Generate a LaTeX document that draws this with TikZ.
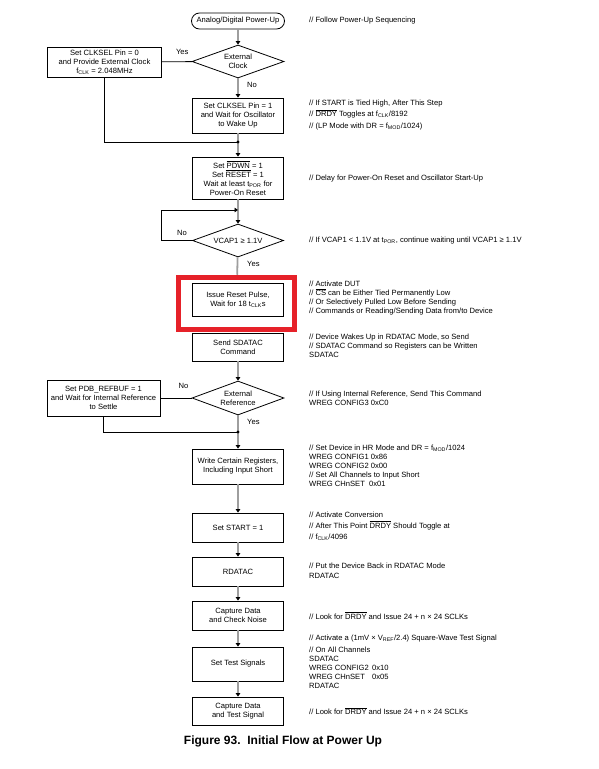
\documentclass[tikz,border=0pt]{standalone}
\usepackage{fontspec}
\setmainfont{Liberation Sans}
\usetikzlibrary{shapes.geometric,arrows.meta,positioning}
\newcommand{\ovl}[1]{$\overline{\mbox{#1}}$}

\begin{document}
\begin{tikzpicture}[x=1pt,y=-1pt,
    every node/.style={font=\fontsize{7.6}{9}\selectfont},
    process/.style ={rectangle, draw, line width=0.8pt, minimum width=91pt, align=center, inner sep=1pt},
    sidebox/.style ={rectangle, draw, line width=0.8pt, minimum width=114pt, align=center, inner sep=1pt},
    decision/.style ={diamond, draw, line width=0.8pt, aspect=2.8, inner sep=0.5pt, minimum width=92pt, minimum height=33pt, align=center},
    terminal/.style ={rectangle, draw, line width=0.8pt, rounded corners=8pt, minimum width=93pt, minimum height=16pt},
    flow/.style ={draw=black!38, line width=1.8pt, -{Triangle[length=3.5pt,width=4.5pt,color=black]}},
    wire/.style ={draw=black, line width=0.9pt},
    note/.style ={anchor=west, align=left, inner sep=0pt},
    lbl/.style ={inner sep=0pt}]
   \useasboundingbox (0,0) rectangle (599,769);

   % main column
   \node[terminal] (power) at (238,21) {Analog/Digital Power-Up};
   \node[decision] (clock) at (238,61.5) {External\\Clock};
   \node[sidebox, minimum height=30pt] (clksel0) at (104.5,62) {Set CLKSEL Pin = 0\\and Provide External Clock\\f\textsubscript{CLK} = 2.048MHz};
   \node[process, minimum height=35pt] (clksel1) at (238,115.5) {Set CLKSEL Pin = 1\\and Wait for Oscillator\\to Wake Up};
   \coordinate (join1) at (238,142);
   \node[process, minimum height=42pt] (pdwn) at (238,178) {Set \ovl{PDWN} = 1\\Set \ovl{RESET} = 1\\Wait at least t\textsubscript{POR} for\\Power-On Reset};
   \coordinate (loopc) at (161,210);
   \coordinate (loopin) at (238,210);
   \node[decision, minimum width=91pt] (vcap) at (238,240.5) {VCAP1 ≥ 1.1V};
   \node[process, minimum height=33pt] (reset) at (238,299.5) {Issue Reset Pulse,\\Wait for 18 t\textsubscript{CLK}s};
   \node[draw={rgb,255:red,230;green,33;blue,41}, line width=5.5pt, minimum width=116pt, minimum height=52pt] (mark) at (236.5,303.5) {};
   \node[process, minimum height=28pt] (sdatac) at (238,347) {Send SDATAC\\Command};
   \node[decision, minimum height=34pt] (extref) at (238,398) {External\\Reference};
   \node[sidebox, minimum width=113pt, minimum height=36pt] (refbuf) at (103.5,398) {Set PDB\_REFBUF = 1\\and Wait for Internal Reference\\to Settle};
   \coordinate (join2) at (238,432);
   \node[process, minimum height=35pt] (write) at (238,466.5) {Write Certain Registers,\\Including Input Short};
   \node[process, minimum height=29pt] (startbit) at (238,527.5) {Set START = 1};
   \node[process, minimum height=29pt] (rdatac) at (238,571.5) {RDATAC};
   \node[process, minimum height=29pt] (noise) at (238,615.5) {Capture Data\\and Check Noise};
   \node[process, minimum height=34pt] (testsig) at (238,664) {Set Test Signals};
   \node[process, minimum height=28pt] (capture) at (238,711) {Capture Data\\and Test Signal};

   % connectors
   \draw[flow] (power) -- (clock);
   \draw[flow] (clock) -- (clksel1);
   \draw[wire] (clksel0) -- (clock);
   \draw[flow] (clksel1) -- (pdwn);
   \draw[wire] (clksel0.south) |- (join1);
   \fill (join1) circle (1.6pt);
   \draw[flow] (pdwn) -- (vcap);
   \draw[wire, -{Triangle[length=3.5pt,width=4.5pt]}] (vcap.west) -| (loopc) -- (loopin);
   \draw[draw=black!38, line width=1.8pt] (vcap) -- (mark);
   \draw[flow] (sdatac) -- (extref);
   \draw[wire] (refbuf) -- (extref);
   \draw[wire] (refbuf.south) |- (join2);
   \draw[flow] (extref) -- (write);
   \fill (join2) circle (1.6pt);
   \draw[flow] (write) -- (startbit);
   \draw[flow] (startbit) -- (rdatac);
   \draw[flow] (rdatac) -- (noise);
   \draw[flow] (noise) -- (testsig);
   \draw[flow] (testsig) -- (capture);

   % yes / no
   \node[lbl, above left=6.5pt and 3pt of clock.west] (clockyes) {Yes};
   \node[lbl, below right=4pt and 9pt of clock.south] (clockno) {No};
   \node[lbl, above left=5pt and 5pt of vcap.west] (vcapno) {No};
   \node[lbl, below right=4pt and 9pt of vcap.south] (vcapyes) {Yes};
   \node[lbl, above left=9pt and 3pt of extref.west] (extrefno) {No};
   \node[lbl, below right=4pt and 9pt of extref.south] (extrefyes) {Yes};

   % comments
   \node[note] (c1) at (309,21) {// Follow Power-Up Sequencing};
   \node[note] (c2) at (309,115) {// If START is Tied High, After This Step\\[2.5pt]// \ovl{DRDY} Toggles at f\textsubscript{CLK}/8192\\[2.5pt]// (LP Mode with DR = f\textsubscript{MOD}/1024)};
   \node[note] (c3) at (309,179) {// Delay for Power-On Reset and Oscillator Start-Up};
   \node[note] (c4) at (309,241) {// If VCAP1 < 1.1V at t\textsubscript{POR}, continue waiting until VCAP1 ≥ 1.1V};
   \node[note] (c5) at (309,298) {// Activate DUT\\// \ovl{CS} can be Either Tied Permanently Low\\// Or Selectively Pulled Low Before Sending\\// Commands or Reading/Sending Data from/to Device};
   \node[note] (c6) at (309,346) {// Device Wakes Up in RDATAC Mode, so Send\\// SDATAC Command so Registers can be Written\\SDATAC};
   \node[note] (c7) at (309,398.5) {// If Using Internal Reference, Send This Command\\WREG CONFIG3 0xC0};
   \node[note] (c8) at (309,465.5) {// Set Device in HR Mode and DR = f\textsubscript{MOD}/1024\\WREG CONFIG1 0x86\\WREG CONFIG2 0x00\\// Set All Channels to Input Short\\WREG CHnSET\ \ 0x01};
   \node[note] (c9) at (309,526) {// Activate Conversion\\[2pt]// After This Point \ovl{DRDY} Should Toggle at\\[2pt]// f\textsubscript{CLK}/4096};
   \node[note] (c10) at (309,571) {// Put the Device Back in RDATAC Mode\\[1pt]RDATAC};
   \node[note] (c11) at (309,615.5) {// Look for \ovl{DRDY} and Issue 24 + n × 24 SCLKs};
   \node[note] (c12) at (309,661.5) {// Activate a (1mV × V\textsubscript{REF}/2.4) Square-Wave Test Signal\\[3pt]// On All Channels\\SDATAC\\\makebox[63pt][l]{WREG CONFIG2}0x10\\\makebox[63pt][l]{WREG CHnSET}0x05\\RDATAC};
   \node[note] (c13) at (309,711) {// Look for \ovl{DRDY} and Issue 24 + n × 24 SCLKs};

   \node[font=\fontsize{12}{14}\selectfont\bfseries] (caption) at (283,741) {Figure 93.\ \ Initial Flow at Power Up};
 \end{tikzpicture}
\end{document}
